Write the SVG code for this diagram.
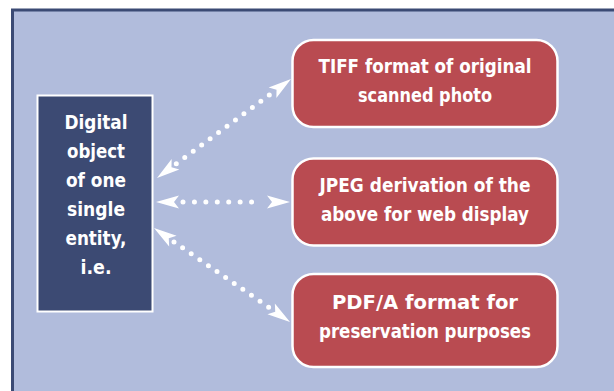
<svg xmlns="http://www.w3.org/2000/svg" xmlns:xlink="http://www.w3.org/1999/xlink" width="614" height="391" viewBox="0 0 614 391">
<style>
.lbl{font-family:"DejaVu Sans Condensed","DejaVu Sans","Liberation Sans",sans-serif;font-weight:bold;font-size:20px;fill:#ffffff;text-anchor:middle}
.red{fill:#b94b51;stroke:#ffffff;stroke-width:2.5}
.dots{fill:none;stroke:#ffffff;stroke-width:5;stroke-linecap:round}
.head{fill:#ffffff}
</style>
<defs>
<path id="ah" d="M0,0 L-23,-6.5 L-18,0 L-23,6.5 Z"/>
</defs>
<rect width="614" height="391" fill="#ffffff"/>
<rect x="12.5" y="10" width="640" height="420" fill="#b1bcdc" stroke="#3b4a74" stroke-width="3"/>
<g id="digital-object">
<rect x="37.5" y="95.5" width="115" height="216" fill="#3c4a73" stroke="#ffffff" stroke-width="2"/>
<text class="lbl" x="96" y="129" textLength="63" lengthAdjust="spacingAndGlyphs">Digital</text>
<text class="lbl" x="96" y="158" textLength="58" lengthAdjust="spacingAndGlyphs">object</text>
<text class="lbl" x="96" y="187" textLength="60" lengthAdjust="spacingAndGlyphs">of one</text>
<text class="lbl" x="96" y="216" textLength="58" lengthAdjust="spacingAndGlyphs">single</text>
<text class="lbl" x="96" y="245" textLength="61" lengthAdjust="spacingAndGlyphs">entity,</text>
<text class="lbl" x="96" y="274" textLength="31" lengthAdjust="spacingAndGlyphs">i.e.</text>
</g>
<g id="tiff">
<rect class="red" x="292.5" y="40" width="265" height="87" rx="21"/>
<text class="lbl" x="425" y="73" textLength="213" lengthAdjust="spacingAndGlyphs">TIFF format of original</text>
<text class="lbl" x="425" y="102" textLength="134" lengthAdjust="spacingAndGlyphs">scanned photo</text>
</g>
<g id="jpeg">
<rect class="red" x="292.5" y="158.5" width="265" height="87" rx="21"/>
<text class="lbl" x="425" y="192" textLength="211" lengthAdjust="spacingAndGlyphs">JPEG derivation of the</text>
<text class="lbl" x="425" y="221" textLength="208" lengthAdjust="spacingAndGlyphs">above for web display</text>
</g>
<g id="pdfa">
<rect class="red" x="292.5" y="274" width="265" height="93" rx="21"/>
<text class="lbl" x="425" y="309" textLength="186" lengthAdjust="spacingAndGlyphs">PDF/A format for</text>
<text class="lbl" x="425" y="338" textLength="212" lengthAdjust="spacingAndGlyphs">preservation purposes</text>
</g>
<g id="connectors">
<path class="dots" d="M176.3,163.7 L269.3,95" stroke-dasharray="0 10.51"/>
<use xlink:href="#ah" class="head" transform="translate(291,79) rotate(-36.46)"/>
<use xlink:href="#ah" class="head" transform="translate(157,178) rotate(143.54)"/>
<path class="dots" d="M183,202 L263,202" stroke-dasharray="0 11.43"/>
<use xlink:href="#ah" class="head" transform="translate(290,202)"/>
<use xlink:href="#ah" class="head" transform="translate(156,202) rotate(180)"/>
<path class="dots" d="M174,241.9 L269.3,307.6" stroke-dasharray="0 10.45"/>
<use xlink:href="#ah" class="head" transform="translate(290,322) rotate(34.85)"/>
<use xlink:href="#ah" class="head" transform="translate(154,228) rotate(214.85)"/>
</g>
</svg>
